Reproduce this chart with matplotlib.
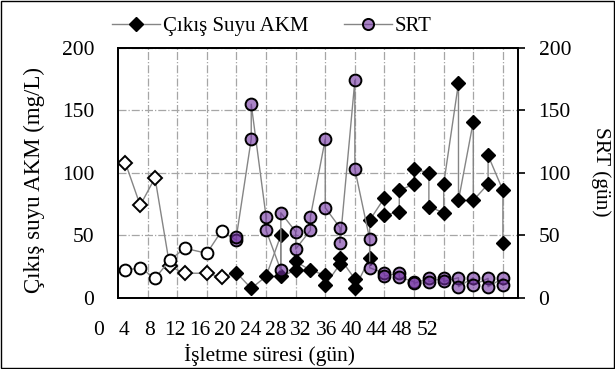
import matplotlib
matplotlib.use("Agg")
import matplotlib.pyplot as plt
from matplotlib.lines import Line2D
from matplotlib.patches import Rectangle

# gun (isletme suresi) ve olcumler
days_akm = [1, 3, 5, 7, 9, 12, 14, 16, 18, 20, 22, 22, 24, 24, 26, 28, 28, 30, 30,
            32, 32, 34, 34, 36, 36, 38, 38, 40, 40, 42, 42, 44, 44, 46, 46, 48, 48,
            50, 50, 52, 52]
akm = [108, 74, 96, 25, 19.6, 19.6, 16.4, 20, 7.5, 17, 50, 17, 22, 29, 22, 18, 10,
       27, 31.6, 15, 7.5, 31.6, 62, 80, 66, 69, 86, 91, 103, 100, 73, 68, 91, 172,
       78, 141, 78, 91, 114, 86, 44]

days_srt = [1, 3, 5, 7, 9, 12, 14, 16, 16, 18, 18, 20, 20, 22, 22, 24, 24, 26, 26,
            28, 28, 30, 30, 32, 32, 34, 34, 36, 36, 38, 38, 40, 40, 42, 42, 44, 44,
            46, 46, 48, 48, 50, 50, 52, 52]
srt = [22, 24, 15.5, 30, 39.6, 35.6, 53.5, 46, 49, 127, 155, 65, 54, 22, 68, 53, 39,
       54, 65, 127, 72, 56, 44, 174, 103, 47, 24, 19.5, 17.4, 19.5, 16.3, 12.8, 11.5,
       15.5, 12.8, 15.5, 13, 16, 8.8, 16, 10, 15.5, 8.8, 15.5, 10]

n_start = 7  # ilk olcumler bos isaretli
xtick_labels = list(range(0, 53, 4))

W, H = 615, 369
FONT = "Liberation Serif"
FS = 15.5
purple = (0.44, 0.19, 0.63, 0.6)
line_c = "#858585"

plt.rcParams["font.family"] = FONT

fig = plt.figure(figsize=(W / 100, H / 100), dpi=100)
x0, x1, y0, y1 = 118, 517.7, 48, 297.7
ax = fig.add_axes([x0 / W, 1 - y1 / H, (x1 - x0) / W, (y1 - y0) / H])
ax2 = ax.twinx()

ax.set_xlim(0, 54)
ax.set_ylim(0, 200)
ax.set_xticks(range(4, 53, 4))
ax.set_yticks(range(0, 201, 50))
ax.grid(True, color="#a6a6a6", linestyle="-.", linewidth=0.9)
ax.set_axisbelow(True)
ax.tick_params(axis="x", length=0, labelbottom=False)
ax.tick_params(axis="y", length=0, labelsize=FS, pad=17)
for s in ax.spines.values():
    s.set_color("black")
    s.set_linewidth(1.3)

# AKM
ax.plot(days_akm, akm, color=line_c, lw=1.0, zorder=2)
ax.plot(days_akm[:n_start], akm[:n_start], ls="none", marker="D", ms=7,
        mfc="white", mec="black", mew=1.4, zorder=3)
ax.plot(days_akm[n_start:], akm[n_start:], ls="none", marker="D", ms=7,
        mfc="black", mec="black", mew=1.0, zorder=3)

# SRT ikincil eksen
ax2.set_ylim(0, 200)
ax2.set_yticks(range(0, 201, 50))
ax2.tick_params(axis="y", direction="out", length=5, width=1.2, labelsize=FS, pad=10)
for s in ax2.spines.values():
    s.set_color("black")
    s.set_linewidth(1.3)
ax2.plot(days_srt, srt, color=line_c, lw=1.0, zorder=2)
ax2.plot(days_srt[:n_start], srt[:n_start], ls="none", marker="o", ms=8.5,
         mfc="white", mec="black", mew=1.4, zorder=3)
ax2.plot(days_srt[n_start:], srt[n_start:], ls="none", marker="o", ms=8.5,
         mfc=purple, mec="black", mew=1.4, zorder=3)

# x etiketleri (grafikten kaymis kategori ekseni)
axl = fig.add_axes([99 / W, 1 - y1 / H, (427 - 99) / W, 0.001])
axl.set_xlim(0, 52)
axl.set_xticks(xtick_labels)
axl.tick_params(axis="x", length=0, labelsize=FS, pad=17)
axl.set_yticks([])
axl.patch.set_visible(False)
for s in axl.spines.values():
    s.set_visible(False)

fig.text(270 / W, 1 - 355 / H, "İşletme süresi (gün)", ha="center", va="center",
         fontsize=FS)
fig.text(34 / W, 1 - 180 / H, "Çıkış suyu AKM (mg/L)", ha="center", va="center",
         rotation=90, fontsize=16.5)
fig.text(601 / W, 1 - 172 / H, "SRT (gün)", ha="center", va="center",
         rotation=-90, fontsize=FS)

handles = [
    Line2D([], [], color=line_c, lw=1.0, marker="D", ms=7, mfc="black", mec="black"),
    Line2D([], [], color=line_c, lw=1.0, marker="o", ms=8, mfc=purple, mec="black",
           mew=1.4),
]
fig.legend(handles, ["Çıkış Suyu AKM", "SRT"], loc="center",
           bbox_to_anchor=(272 / W, 1 - 26 / H), ncol=2, frameon=False,
           fontsize=15, handlelength=2.3, handletextpad=0.15, columnspacing=1.7)

fig.patches.append(Rectangle((0.002, 0.003), 0.996, 0.994, transform=fig.transFigure,
                             fill=False, ec="black", lw=1.0))

fig.savefig("out.png", dpi=100)
